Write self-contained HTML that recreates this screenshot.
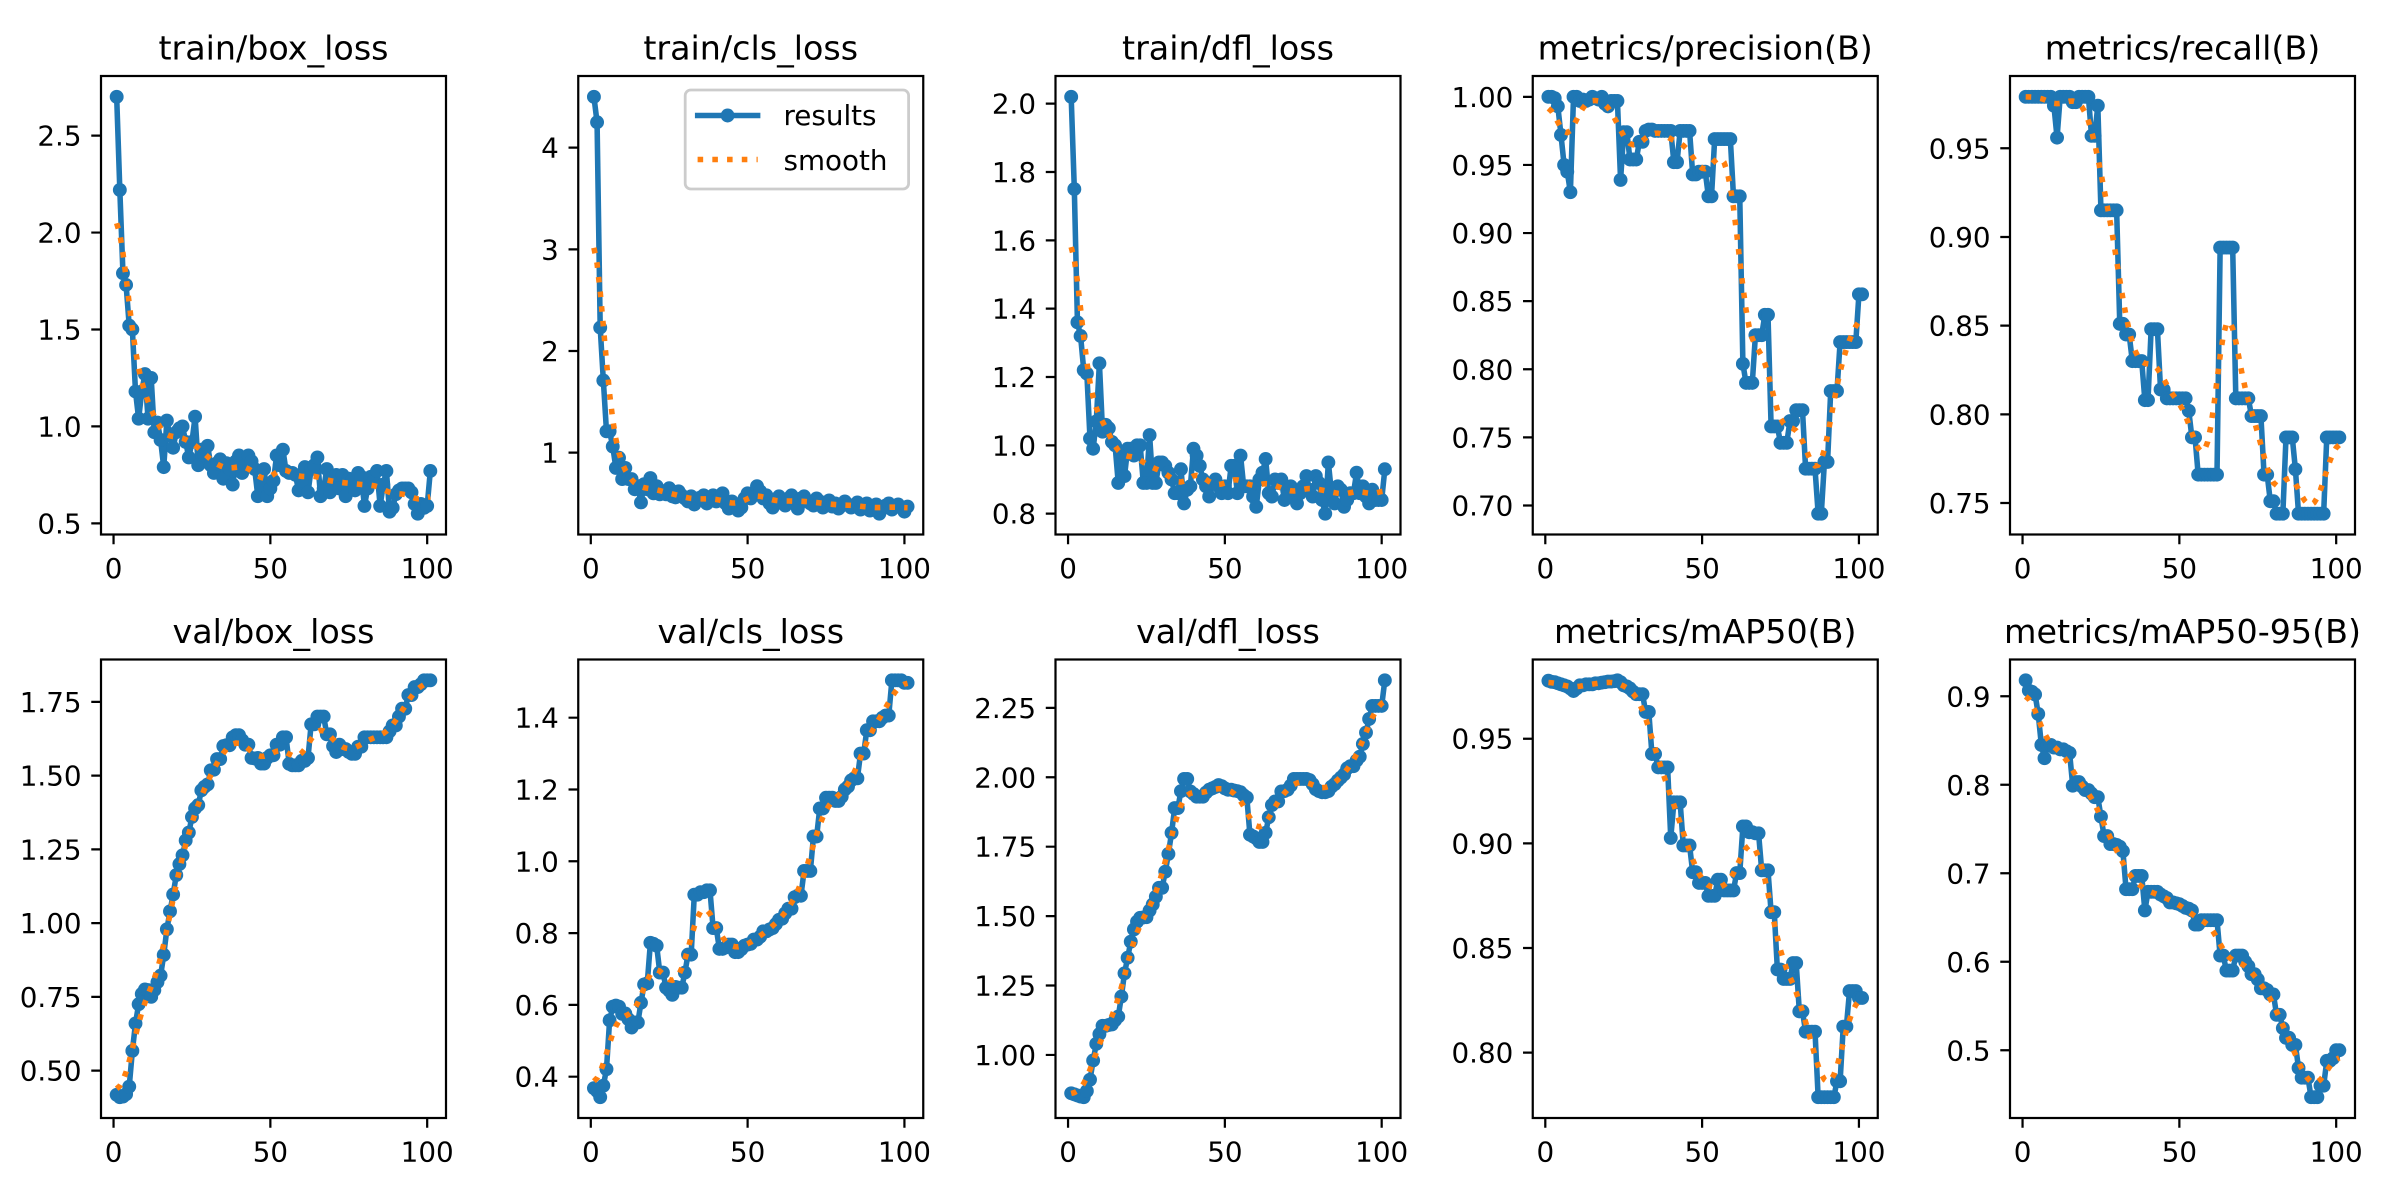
<!DOCTYPE html>
<html>
<head>
<meta charset="utf-8">
<style>
html,body{margin:0;padding:0;background:#ffffff;}
svg{display:block;}
text{font-family:"DejaVu Sans","Liberation Sans",sans-serif;fill:#000000;}
.tl{font-size:27.78px;}
.tt{font-size:33.33px;text-anchor:middle;}
.xl{text-anchor:middle;}
.yl{text-anchor:end;}
</style>
</head>
<body>
<svg id="s" width="2400" height="1200" viewBox="0 0 2400 1200" xmlns="http://www.w3.org/2000/svg">
<rect x="0" y="0" width="2400" height="1200" fill="#ffffff"/>
<defs id="defs"></defs>
<g id="data"></g>
<g id="axes"></g>

<!-- titles -->
<g>
<text class="tt" x="273.5" y="59.33">train/box_loss</text>
<text class="tt" x="750.75" y="59.33">train/cls_loss</text>
<text class="tt" x="1228" y="59.33">train/dfl_loss</text>
<text class="tt" x="1705.25" y="59.33">metrics/precision(B)</text>
<text class="tt" x="2182.5" y="59.33">metrics/recall(B)</text>
<text class="tt" x="273.5" y="642.83">val/box_loss</text>
<text class="tt" x="750.75" y="642.83">val/cls_loss</text>
<text class="tt" x="1228" y="642.83">val/dfl_loss</text>
<text class="tt" x="1705.25" y="642.83">metrics/mAP50(B)</text>
<text class="tt" x="2182.5" y="642.83">metrics/mAP50-95(B)</text>
</g>

<!-- x tick labels -->
<g class="tl xl">
<text class="tl xl" x="113.55" y="578.2">0</text><text class="tl xl" x="270.36" y="578.2">50</text><text class="tl xl" x="427.18" y="578.2">100</text>
<text class="tl xl" x="590.8" y="578.2">0</text><text class="tl xl" x="747.61" y="578.2">50</text><text class="tl xl" x="904.43" y="578.2">100</text>
<text class="tl xl" x="1068.05" y="578.2">0</text><text class="tl xl" x="1224.86" y="578.2">50</text><text class="tl xl" x="1381.68" y="578.2">100</text>
<text class="tl xl" x="1545.3" y="578.2">0</text><text class="tl xl" x="1702.11" y="578.2">50</text><text class="tl xl" x="1858.93" y="578.2">100</text>
<text class="tl xl" x="2022.55" y="578.2">0</text><text class="tl xl" x="2179.36" y="578.2">50</text><text class="tl xl" x="2336.18" y="578.2">100</text>
<text class="tl xl" x="113.55" y="1161.7">0</text><text class="tl xl" x="270.36" y="1161.7">50</text><text class="tl xl" x="427.18" y="1161.7">100</text>
<text class="tl xl" x="590.8" y="1161.7">0</text><text class="tl xl" x="747.61" y="1161.7">50</text><text class="tl xl" x="904.43" y="1161.7">100</text>
<text class="tl xl" x="1068.05" y="1161.7">0</text><text class="tl xl" x="1224.86" y="1161.7">50</text><text class="tl xl" x="1381.68" y="1161.7">100</text>
<text class="tl xl" x="1545.3" y="1161.7">0</text><text class="tl xl" x="1702.11" y="1161.7">50</text><text class="tl xl" x="1858.93" y="1161.7">100</text>
<text class="tl xl" x="2022.55" y="1161.7">0</text><text class="tl xl" x="2179.36" y="1161.7">50</text><text class="tl xl" x="2336.18" y="1161.7">100</text>
</g>

<!-- y tick labels -->
<g>
<text class="tl yl" x="81.56" y="145.6">2.5</text>
<text class="tl yl" x="81.56" y="242.6">2.0</text>
<text class="tl yl" x="81.56" y="339.5">1.5</text>
<text class="tl yl" x="81.56" y="436.4">1.0</text>
<text class="tl yl" x="81.56" y="533.35">0.5</text>

<text class="tl yl" x="558.81" y="157.7">4</text>
<text class="tl yl" x="558.81" y="259.3">3</text>
<text class="tl yl" x="558.81" y="361">2</text>
<text class="tl yl" x="558.81" y="462.65">1</text>

<text class="tl yl" x="1036.06" y="113.7">2.0</text>
<text class="tl yl" x="1036.06" y="182">1.8</text>
<text class="tl yl" x="1036.06" y="250.3">1.6</text>
<text class="tl yl" x="1036.06" y="318.7">1.4</text>
<text class="tl yl" x="1036.06" y="387">1.2</text>
<text class="tl yl" x="1036.06" y="455.3">1.0</text>
<text class="tl yl" x="1036.06" y="523.7">0.8</text>

<text class="tl yl" x="1513.31" y="106.84">1.00</text>
<text class="tl yl" x="1513.31" y="174.95">0.95</text>
<text class="tl yl" x="1513.31" y="243.05">0.90</text>
<text class="tl yl" x="1513.31" y="311.16">0.85</text>
<text class="tl yl" x="1513.31" y="379.27">0.80</text>
<text class="tl yl" x="1513.31" y="447.38">0.75</text>
<text class="tl yl" x="1513.31" y="515.49">0.70</text>

<text class="tl yl" x="1990.56" y="158.28">0.95</text>
<text class="tl yl" x="1990.56" y="246.96">0.90</text>
<text class="tl yl" x="1990.56" y="335.65">0.85</text>
<text class="tl yl" x="1990.56" y="424.33">0.80</text>
<text class="tl yl" x="1990.56" y="513.02">0.75</text>

<text class="tl yl" x="81.56" y="711.87">1.75</text>
<text class="tl yl" x="81.56" y="785.62">1.50</text>
<text class="tl yl" x="81.56" y="859.37">1.25</text>
<text class="tl yl" x="81.56" y="933.12">1.00</text>
<text class="tl yl" x="81.56" y="1006.86">0.75</text>
<text class="tl yl" x="81.56" y="1080.61">0.50</text>

<text class="tl yl" x="558.81" y="727.68">1.4</text>
<text class="tl yl" x="558.81" y="799.48">1.2</text>
<text class="tl yl" x="558.81" y="871.28">1.0</text>
<text class="tl yl" x="558.81" y="943.08">0.8</text>
<text class="tl yl" x="558.81" y="1014.88">0.6</text>
<text class="tl yl" x="558.81" y="1086.69">0.4</text>

<text class="tl yl" x="1036.06" y="717.83">2.25</text>
<text class="tl yl" x="1036.06" y="787.26">2.00</text>
<text class="tl yl" x="1036.06" y="856.68">1.75</text>
<text class="tl yl" x="1036.06" y="926.1">1.50</text>
<text class="tl yl" x="1036.06" y="995.52">1.25</text>
<text class="tl yl" x="1036.06" y="1064.94">1.00</text>

<text class="tl yl" x="1513.31" y="748.72">0.95</text>
<text class="tl yl" x="1513.31" y="853.34">0.90</text>
<text class="tl yl" x="1513.31" y="957.97">0.85</text>
<text class="tl yl" x="1513.31" y="1062.59">0.80</text>

<text class="tl yl" x="1990.56" y="706.27">0.9</text>
<text class="tl yl" x="1990.56" y="794.77">0.8</text>
<text class="tl yl" x="1990.56" y="883.26">0.7</text>
<text class="tl yl" x="1990.56" y="971.76">0.6</text>
<text class="tl yl" x="1990.56" y="1060.26">0.5</text>
</g>

<!-- legend -->
<g>
<rect x="685.2" y="90" width="223.4" height="99" rx="5.56" ry="5.56" fill="#ffffff" fill-opacity="0.8" stroke="#cccccc" stroke-width="2.78"/>
<line x1="697.7" y1="115.5" x2="757.6" y2="115.5" stroke="#1f77b4" stroke-width="5.56" stroke-linecap="square"/>
<circle cx="727.6" cy="115.5" r="6.95" fill="#1f77b4"/>
<text class="tl" x="783.5" y="125">results</text>
<line x1="697.6" y1="159.5" x2="757.7" y2="159.5" stroke="#ff7f0e" stroke-width="5.56" stroke-dasharray="5.56,9.17" stroke-linecap="butt"/>
<text class="tl" x="783.5" y="170">smooth</text>
</g>
</svg>

<script>
(function(){
var NS="http://www.w3.org/2000/svg";
var COLS=[101,578.25,1055.5,1532.75,2010], W=345, H=458.5, TOPS=[76,659.5];
function rep(v,n){var a=[];for(var i=0;i<n;i++)a.push(v);return a;}
function cat(){var a=[];for(var i=0;i<arguments.length;i++)a=a.concat(arguments[i]);return a;}

var recall=cat(rep(0.979,9),[0.974],[0.956],rep(0.979,4),rep(0.976,2),rep(0.979,4),rep(0.957,2),[0.974],
 rep(0.915,6),rep(0.851,2),rep(0.845,2),rep(0.830,4),rep(0.808,2),rep(0.848,3),rep(0.814,2),rep(0.809,7),[0.802],
 rep(0.787,2),rep(0.766,7),rep(0.894,5),rep(0.809,5),rep(0.799,4),rep(0.766,2),rep(0.751,2),rep(0.744,3),
 rep(0.787,3),[0.769],rep(0.744,9),rep(0.787,5));

var P=[
 {yl:[0.4425,2.8075],t:[0.5,1,1.5,2,2.5],d:[
 2.70,2.22,1.79,1.73,1.52,1.50,1.18,1.04,1.18,1.27,
 1.04,1.25,0.97,1.02,0.93,0.79,1.03,0.95,0.89,0.97,
 0.99,1.00,0.92,0.84,0.92,1.05,0.80,0.88,0.85,0.90,
 0.80,0.76,0.81,0.83,0.73,0.81,0.78,0.70,0.82,0.85,
 0.76,0.80,0.85,0.82,0.78,0.64,0.70,0.78,0.64,0.68,
 0.72,0.85,0.80,0.88,0.77,0.76,0.76,0.75,0.67,0.72,
 0.79,0.66,0.78,0.80,0.84,0.64,0.68,0.78,0.66,0.74,
 0.75,0.68,0.75,0.64,0.73,0.72,0.67,0.76,0.74,0.59,
 0.68,0.74,0.72,0.77,0.59,0.70,0.77,0.56,0.58,0.65,
 0.67,0.68,0.68,0.68,0.66,0.60,0.55,0.60,0.58,0.59,
 0.77]},
 {yl:[0.195,4.705],t:[1,2,3,4],d:[
 4.50,4.25,2.23,1.71,1.21,1.21,1.06,0.85,0.95,0.74,
 0.85,0.74,0.74,0.64,0.67,0.51,0.69,0.64,0.75,0.60,
 0.67,0.59,0.62,0.59,0.65,0.57,0.56,0.62,0.58,0.55,
 0.52,0.57,0.49,0.55,0.56,0.58,0.50,0.55,0.58,0.52,
 0.55,0.60,0.50,0.45,0.52,0.48,0.43,0.46,0.55,0.60,
 0.55,0.58,0.67,0.62,0.55,0.58,0.50,0.46,0.52,0.57,
 0.52,0.48,0.55,0.58,0.50,0.45,0.55,0.57,0.52,0.50,
 0.48,0.55,0.52,0.46,0.50,0.53,0.47,0.50,0.45,0.48,
 0.52,0.49,0.46,0.48,0.51,0.44,0.47,0.50,0.43,0.46,
 0.49,0.40,0.45,0.48,0.50,0.44,0.47,0.49,0.46,0.42,
 0.47]},
 {yl:[0.739,2.081],t:[0.8,1.0,1.2,1.4,1.6,1.8,2.0],d:[
 2.02,1.75,1.36,1.32,1.22,1.21,1.02,0.99,1.07,1.24,
 1.04,1.06,1.05,1.01,1.00,0.89,0.98,0.91,0.99,0.99,
 0.97,1.00,1.00,0.89,0.89,1.03,0.89,0.89,0.95,0.95,
 0.94,0.92,0.90,0.86,0.86,0.93,0.83,0.87,0.88,0.99,
 0.97,0.94,0.90,0.88,0.85,0.89,0.90,0.88,0.86,0.88,
 0.86,0.94,0.94,0.86,0.97,0.88,0.88,0.88,0.85,0.82,
 0.90,0.92,0.96,0.86,0.85,0.90,0.89,0.90,0.84,0.85,
 0.88,0.87,0.83,0.86,0.88,0.91,0.87,0.85,0.91,0.89,
 0.84,0.80,0.95,0.86,0.83,0.88,0.87,0.82,0.84,0.86,
 0.86,0.92,0.86,0.88,0.85,0.83,0.87,0.84,0.84,0.84,
 0.93]},
 {yl:[0.6787,1.0153],t:[0.70,0.75,0.80,0.85,0.90,0.95,1.00],d:[
 1.000,1.000,0.999,0.993,0.972,0.950,0.945,0.930,1.000,1.000,
 0.997,0.998,0.997,0.998,1.000,0.999,0.998,1.000,0.995,0.993,
 0.997,0.997,0.997,0.939,0.974,0.974,0.954,0.954,0.954,0.967,
 0.967,0.975,0.976,0.976,0.975,0.975,0.975,0.975,0.975,0.975,
 0.952,0.952,0.975,0.975,0.975,0.975,0.943,0.943,0.945,0.945,
 0.945,0.927,0.927,0.969,0.969,0.969,0.969,0.969,0.969,0.927,
 0.927,0.927,0.804,0.790,0.790,0.790,0.825,0.825,0.825,0.840,
 0.840,0.758,0.758,0.758,0.746,0.746,0.746,0.762,0.762,0.770,
 0.770,0.770,0.727,0.727,0.727,0.727,0.694,0.694,0.732,0.732,
 0.784,0.784,0.784,0.820,0.820,0.820,0.820,0.820,0.820,0.855,
 0.855]},
 {yl:[0.73225,0.99075],t:[0.75,0.80,0.85,0.90,0.95],d:recall},
 {yl:[0.33935,1.89365],t:[0.5,0.75,1.0,1.25,1.5,1.75],d:[
 0.418,0.410,0.412,0.420,0.446,0.567,0.660,0.725,0.760,0.775,
 0.773,0.750,0.773,0.800,0.822,0.892,0.979,1.040,1.097,1.163,
 1.200,1.230,1.280,1.307,1.360,1.389,1.400,1.450,1.462,1.470,
 1.518,1.520,1.556,1.556,1.600,1.603,1.603,1.630,1.637,1.637,
 1.620,1.605,1.605,1.560,1.558,1.560,1.541,1.541,1.560,1.569,
 1.569,1.605,1.605,1.630,1.630,1.540,1.535,1.535,1.535,1.550,
 1.550,1.560,1.674,1.674,1.700,1.700,1.700,1.640,1.640,1.600,
 1.580,1.605,1.590,1.590,1.580,1.574,1.574,1.598,1.598,1.630,
 1.630,1.630,1.630,1.630,1.630,1.630,1.630,1.650,1.670,1.670,
 1.700,1.727,1.727,1.773,1.773,1.800,1.800,1.810,1.823,1.823,
 1.823]},
 {yl:[0.28495,1.56205],t:[0.4,0.6,0.8,1.0,1.2,1.4],d:[
 0.368,0.360,0.343,0.375,0.421,0.557,0.595,0.598,0.595,0.575,
 0.576,0.560,0.537,0.551,0.551,0.606,0.657,0.660,0.773,0.770,
 0.765,0.690,0.690,0.648,0.640,0.628,0.650,0.648,0.648,0.690,
 0.740,0.740,0.907,0.907,0.914,0.914,0.919,0.919,0.814,0.814,
 0.756,0.756,0.760,0.768,0.768,0.747,0.747,0.755,0.765,0.768,
 0.770,0.782,0.782,0.790,0.805,0.805,0.810,0.814,0.825,0.837,
 0.840,0.855,0.868,0.868,0.900,0.904,0.904,0.973,0.973,0.973,
 1.069,1.069,1.147,1.147,1.177,1.177,1.177,1.168,1.168,1.180,
 1.200,1.208,1.225,1.231,1.231,1.300,1.300,1.365,1.365,1.390,
 1.390,1.390,1.400,1.406,1.406,1.504,1.504,1.504,1.504,1.497,
 1.497]},
 {yl:[0.77295,2.42405],t:[1.0,1.25,1.5,1.75,2.0,2.25],d:[
 0.862,0.858,0.854,0.850,0.848,0.870,0.911,0.980,1.040,1.075,
 1.105,1.105,1.108,1.110,1.125,1.138,1.210,1.294,1.350,1.408,
 1.452,1.480,1.494,1.495,1.496,1.520,1.542,1.570,1.602,1.602,
 1.660,1.724,1.800,1.889,1.889,1.950,1.994,1.994,1.949,1.940,
 1.930,1.930,1.930,1.945,1.955,1.960,1.965,1.972,1.968,1.960,
 1.955,1.955,1.952,1.950,1.946,1.935,1.927,1.793,1.787,1.780,
 1.767,1.767,1.800,1.856,1.900,1.913,1.913,1.949,1.950,1.955,
 1.970,1.994,1.994,1.994,1.994,1.994,1.990,1.975,1.957,1.950,
 1.946,1.946,1.950,1.966,1.975,1.988,1.999,2.010,2.032,2.040,
 2.040,2.060,2.074,2.120,2.161,2.210,2.257,2.257,2.257,2.257,
 2.349]},
 {yl:[0.76874,0.98786],t:[0.80,0.85,0.90,0.95],d:[
 0.9777,0.9772,0.9770,0.9765,0.9760,0.9755,0.9750,0.9740,0.9728,0.9740,
 0.9755,0.9755,0.9760,0.9760,0.9760,0.9765,0.9765,0.9768,0.9770,0.9773,
 0.9773,0.9775,0.9779,0.9770,0.9755,0.9750,0.9740,0.9725,0.9713,0.9713,
 0.9713,0.9628,0.9628,0.9427,0.9427,0.9363,0.9363,0.9363,0.9363,0.9026,
 0.9196,0.9196,0.9196,0.8990,0.8990,0.8990,0.8862,0.8862,0.8811,0.8811,
 0.8811,0.8749,0.8749,0.8749,0.8826,0.8826,0.8775,0.8775,0.8775,0.8775,
 0.8858,0.8858,0.9081,0.9081,0.9053,0.9053,0.9048,0.9048,0.8871,0.8871,
 0.8871,0.8671,0.8671,0.8397,0.8397,0.8352,0.8352,0.8352,0.8428,0.8428,
 0.8197,0.8197,0.8100,0.8100,0.8100,0.8100,0.7787,0.7787,0.7787,0.7787,
 0.7787,0.7787,0.7863,0.7863,0.8124,0.8124,0.8294,0.8294,0.8294,0.8261,
 0.8261]},
 {yl:[0.42345,0.94155],t:[0.5,0.6,0.7,0.8,0.9],d:[
 0.918,0.9065,0.905,0.902,0.880,0.845,0.830,0.845,0.845,0.842,
 0.842,0.840,0.840,0.838,0.836,0.799,0.803,0.803,0.798,0.794,
 0.794,0.790,0.786,0.786,0.764,0.742,0.742,0.733,0.733,0.732,
 0.730,0.725,0.682,0.682,0.682,0.697,0.697,0.697,0.658,0.679,
 0.679,0.679,0.679,0.676,0.674,0.672,0.667,0.667,0.666,0.665,
 0.663,0.661,0.660,0.658,0.642,0.642,0.647,0.647,0.647,0.647,
 0.647,0.647,0.607,0.607,0.590,0.590,0.590,0.607,0.607,0.607,
 0.600,0.595,0.586,0.586,0.580,0.570,0.570,0.568,0.563,0.563,
 0.540,0.540,0.525,0.514,0.514,0.506,0.506,0.480,0.469,0.469,
 0.469,0.447,0.447,0.447,0.460,0.460,0.488,0.488,0.491,0.500,
 0.500]}
];

function gf(y,s){
  var r=Math.floor(4*s+0.5), w=[], sum=0, i, k;
  for(i=-r;i<=r;i++){var v=Math.exp(-0.5*i*i/(s*s));w.push(v);sum+=v;}
  for(i=0;i<w.length;i++)w[i]/=sum;
  var n=y.length, out=[];
  for(i=0;i<n;i++){
    var acc=0;
    for(k=-r;k<=r;k++){
      var j=i+k;
      var guard=0;
      while((j<0||j>=n)&&guard<10){ if(j<0) j=-j-1; if(j>=n) j=2*n-j-1; guard++; }
      acc+=w[k+r]*y[j];
    }
    out.push(acc);
  }
  return out;
}

var defs=document.getElementById("defs");
var dataG=document.getElementById("data");
var axesG=document.getElementById("axes");
function el(tag,attrs){var e=document.createElementNS(NS,tag);for(var a in attrs)e.setAttribute(a,attrs[a]);return e;}

for(var p=0;p<P.length;p++){
  var c=p%5, r=Math.floor(p/5);
  var L=COLS[c], T=TOPS[r], B=T+H;
  var ymin=P[p].yl[0], ymax=P[p].yl[1];
  var X=function(x){return L+(x+4)/110*W;};
  var Y=(function(ymin,ymax,T){return function(v){return T+(ymax-v)/(ymax-ymin)*H;};})(ymin,ymax,T);
  var cp=el("clipPath",{id:"cp"+p});
  cp.appendChild(el("rect",{x:L,y:T,width:W,height:H}));
  defs.appendChild(cp);
  var g=el("g",{"clip-path":"url(#cp"+p+")"});
  var d=P[p].d, n=d.length, pts=[], i;
  for(i=0;i<n;i++){pts.push([X(i+1),Y(d[i])]);}
  var s="M"+pts.map(function(q){return q[0].toFixed(2)+","+q[1].toFixed(2);}).join(" L");
  g.appendChild(el("path",{d:s,fill:"none",stroke:"#1f77b4","stroke-width":"5.56","stroke-linejoin":"round","stroke-linecap":"square"}));
  for(i=0;i<n;i++){g.appendChild(el("circle",{cx:pts[i][0].toFixed(2),cy:pts[i][1].toFixed(2),r:"6.95",fill:"#1f77b4"}));}
  var sm=gf(d,3), sp=[];
  for(i=0;i<n;i++){sp.push(X(i+1).toFixed(2)+","+Y(sm[i]).toFixed(2));}
  g.appendChild(el("path",{d:"M"+sp.join(" L"),fill:"none",stroke:"#ff7f0e","stroke-width":"5.56","stroke-dasharray":"5.56,9.17","stroke-linecap":"butt","stroke-linejoin":"round"}));
  dataG.appendChild(g);

  // frame
  axesG.appendChild(el("rect",{x:L,y:T,width:W,height:H,fill:"none",stroke:"#000000","stroke-width":"2.22"}));
  // ticks
  var tk="";
  [0,50,100].forEach(function(v){var xx=X(v).toFixed(2);tk+="M"+xx+","+B+" L"+xx+","+(B+9.72).toFixed(2)+" ";});
  P[p].t.forEach(function(v){var yy=Y(v).toFixed(2);tk+="M"+(L-9.72).toFixed(2)+","+yy+" L"+L+","+yy+" ";});
  axesG.appendChild(el("path",{d:tk,fill:"none",stroke:"#000000","stroke-width":"2.22"}));
}
})();
</script>
</body>
</html>
